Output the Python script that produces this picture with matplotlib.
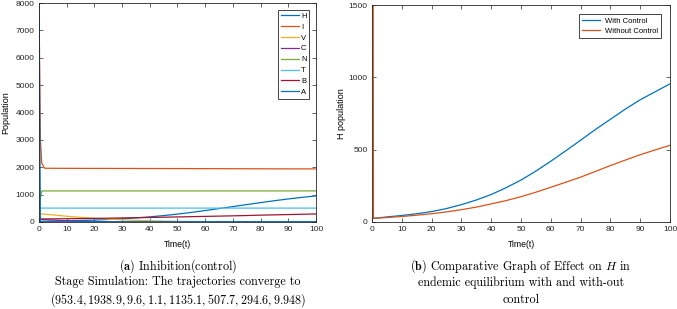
import matplotlib
matplotlib.use("Agg")
import matplotlib.pyplot as plt

plt.rcParams['mathtext.fontset'] = 'cm'

# left panel: all state variables on a shared time grid
t = [0, 0.5, 1, 2, 5, 10, 15, 20, 25, 30, 35, 40, 45, 50, 55, 60, 65, 70, 75, 80, 85, 90, 95, 100]
H = [20, 21, 22, 24, 30, 42, 55, 70, 92, 118, 150, 188, 235, 288, 350, 418, 490, 563, 637, 708, 778, 843, 900, 953.4]
I = [8000, 3000, 2150, 1965, 1962, 1960, 1959, 1958, 1957, 1956, 1955, 1954, 1953, 1952, 1950, 1949, 1948, 1946, 1945, 1943, 1942, 1941, 1940, 1938.9]
V = [300, 295, 290, 285, 260, 210, 170, 135, 105, 80, 60, 45, 34, 25, 19, 15, 13, 12, 11, 10, 10, 10, 9.7, 9.6]
C = [100, 95, 90, 85, 70, 45, 28, 15, 8, 4, 3, 2, 1.7, 1.5, 1.3, 1.2, 1.1, 1.1, 1.1, 1.1, 1.1, 1.1, 1.1, 1.1]
N = [500, 900, 1135, 1135.1, 1135.1, 1135.1, 1135.1, 1135.1, 1135.1, 1135.1, 1135.1, 1135.1, 1135.1, 1135.1, 1135.1, 1135.1, 1135.1, 1135.1, 1135.1, 1135.1, 1135.1, 1135.1, 1135.1, 1135.1]
T = [500, 505, 507.7, 507.7, 507.7, 507.7, 507.7, 507.7, 507.7, 507.7, 507.7, 507.7, 507.7, 507.7, 507.7, 507.7, 507.7, 507.7, 507.7, 507.7, 507.7, 507.7, 507.7, 507.7]
B = [110, 110, 111, 112, 115, 120, 125, 132, 140, 148, 156, 165, 175, 185, 195, 205, 215, 225, 237, 250, 261, 272, 283, 294.6]
A = [8000, 10, 9.95, 9.95, 9.95, 9.95, 9.95, 9.95, 9.95, 9.95, 9.95, 9.95, 9.95, 9.95, 9.95, 9.95, 9.95, 9.95, 9.95, 9.95, 9.95, 9.95, 9.95, 9.948]
names = ['H', 'I', 'V', 'C', 'N', 'T', 'B', 'A']

# right panel: H with / without control
t2 = [0, 0.5, 5, 10, 15, 20, 25, 30, 35, 40, 45, 50, 55, 60, 65, 70, 75, 80, 85, 90, 95, 100]
with_ctrl = [25, 25, 35, 45, 57, 72, 93, 120, 152, 190, 237, 290, 352, 420, 492, 565, 640, 710, 780, 845, 900, 955]
without_ctrl = [8000, 25, 31, 38, 47, 57, 70, 85, 103, 125, 148, 175, 206, 240, 275, 310, 350, 390, 428, 465, 498, 530]

colors = ['#0072BD', '#D95319', '#EDB120', '#7E2F8E', '#77AC30', '#4DBEEE', '#A2142F', '#0072BD']

W, Hpx = 677, 309
fig = plt.figure(figsize=(W / 100, Hpx / 100), dpi=100)
sans = 'Liberation Sans'


def frac(x0, x1, y0, y1):
    return [x0 / W, 1 - y1 / Hpx, (x1 - x0) / W, (y1 - y0) / Hpx]


def style(ax):
    for s in ax.spines.values():
        s.set_linewidth(0.6)
        s.set_color('#262626')
    ax.tick_params(direction='in', top=True, right=True, length=3, width=0.5,
                   labelsize=6, colors='#262626', pad=3)
    for lab in ax.get_xticklabels() + ax.get_yticklabels():
        lab.set_fontfamily(sans)


ax1 = fig.add_axes(frac(39, 316, 3, 222))
for name, ys, c in zip(names, [H, I, V, C, N, T, B, A], colors):
    ax1.plot(t, ys, color=c, lw=0.9, label=name)
ax1.set_xlim(0, 100)
ax1.set_ylim(0, 8000)
ax1.set_xticks(range(0, 101, 10))
ax1.set_yticks(range(0, 8001, 1000))
style(ax1)
ax1.set_xlabel('Time(t)', fontsize=6.2, family=sans, labelpad=5)
ax1.set_ylabel('Population', fontsize=6.5, family=sans, labelpad=4)
leg1 = ax1.legend(loc='upper right', prop={'family': sans, 'size': 5.5},
                  fancybox=False, edgecolor='#262626', framealpha=1,
                  handlelength=2.35, labelspacing=0.46,
                  borderaxespad=0.9, handletextpad=0.3, borderpad=0.35)
leg1.get_frame().set_linewidth(0.6)

ax2 = fig.add_axes(frac(372, 670, 5, 222))
ax2.plot(t2, with_ctrl, color=colors[0], lw=0.9, label='With Control')
ax2.plot(t2, without_ctrl, color=colors[1], lw=0.9, label='Without Control')
ax2.set_xlim(0, 100)
ax2.set_ylim(0, 1500)
ax2.set_xticks(range(0, 101, 10))
ax2.set_yticks([0, 500, 1000, 1500])
style(ax2)
ax2.set_xlabel('Time(t)', fontsize=6.2, family=sans, labelpad=5)
ax2.set_ylabel('H population', fontsize=6.5, family=sans, labelpad=2)
leg2 = ax2.legend(loc='upper right', prop={'family': sans, 'size': 5.5},
                  fancybox=False, edgecolor='#262626', framealpha=1,
                  handlelength=2.35, labelspacing=0.37, borderaxespad=1.2,
                  handletextpad=0.6, borderpad=0.4)
leg2.get_frame().set_linewidth(0.6)

# captions
cap = dict(fontsize=8.7, family='cmr10', ha='center', va='center')
fig.text(178 / W, 1 - 266 / Hpx, r'$\mathbf{(a)}$ Inhibition(control)', **cap)
fig.text(178 / W, 1 - 282 / Hpx, 'Stage Simulation: The trajectories converge to', **cap)
fig.text(178 / W, 1 - 300 / Hpx,
         r'$(953.4, 1938.9, 9.6, 1.1, 1135.1, 507.7, 294.6, 9.948)$', **cap)
fig.text(521 / W, 1 - 266 / Hpx, r'$\mathbf{(b)}$ Comparative Graph of Effect on $H$ in', **cap)
fig.text(521 / W, 1 - 283 / Hpx, 'endemic equilibrium with and with-out', **cap)
fig.text(521 / W, 1 - 300 / Hpx, 'control', **cap)

fig.savefig('out.png', dpi=100)
